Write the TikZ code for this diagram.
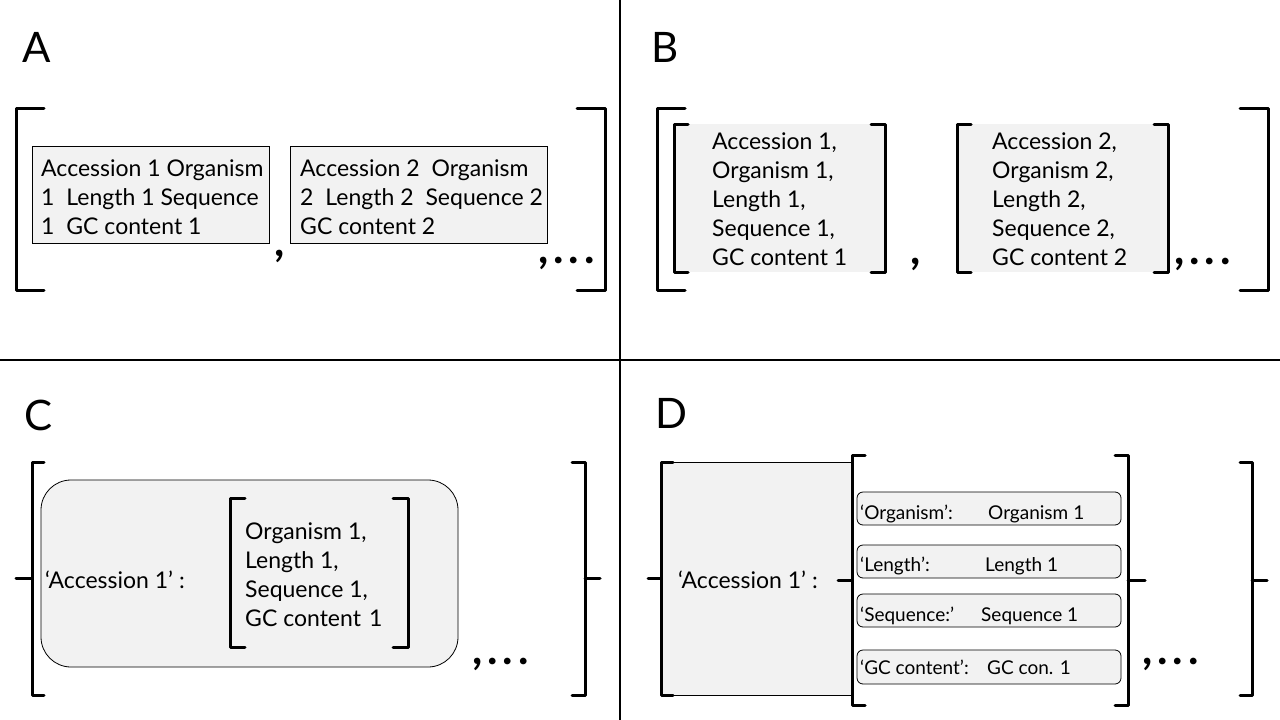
\documentclass[tikz,border=0pt]{standalone}
\usepackage{fontspec}
\setmainfont{Lato}
\def\sqbrak[#1](#2:#3:#4:#5){\draw[#1] ({#2+(#5)},#3) -- (#2,#3) -- (#2,#4) -- ({#2+(#5)},#4);}
\tikzset{
	brk/.style={line width=3pt, line cap=round, line join=round},
	rec/.style={draw, line width=0.8pt, fill=black!5},
	txt/.style={font=\fontsize{23}{29}\selectfont, align=left, inner sep=0pt, anchor=north west},
	smalltxt/.style={font=\fontsize{19}{22}\selectfont, inner sep=0pt, anchor=base west},
	big/.style={font=\fontsize{42}{42}\selectfont, inner sep=0pt, anchor=base west},
	dots/.style={font=\fontsize{44}{44}\bfseries\selectfont, inner sep=0pt, anchor=base west}
}

\begin{document}
\begin{tikzpicture}[x=1pt, y=-1pt]
				\useasboundingbox (0,0) rectangle (1280,720);
				\fill[white] (0,0) rectangle (1280,720);
				
				\draw[line width=1.5pt] (620,0) -- (620,720);
				\draw[line width=1.5pt] (0,360) -- (1280,360);
				
				\node[big] (labA) at (22,62) {A};
				\sqbrak[brk](16:108:290:28)
				\sqbrak[brk](605:108:290:-28)
				\draw[rec] (32,146) rectangle (269,243);
				\node[txt] (acc1) at (41,160) {Accession 1 Organism\\1\hspace{6pt} Length 1 Sequence\\1\hspace{6pt} GC content 1};
				\node[dots] (acomma) at (274,256) {,};
				\draw[rec] (290,146) rectangle (547,243);
				\node[txt] (acc2) at (300,160) {Accession 2\hspace{6pt} Organism\\2\hspace{6pt} Length 2\hspace{6pt} Sequence 2\\GC content 2};
				\node[dots] (adots) at (538,263) {,\kern5pt.\kern5pt.\kern5pt.};
				
				\node[big] (labB) at (651,62) {B};
				\sqbrak[brk](657:108:290:28)
				\sqbrak[brk](1268:108:290:-28)
				\fill[black!5] (674,124) rectangle (885,272);
				\sqbrak[brk](674:124:272:14)
				\sqbrak[brk](885:124:272:-14)
				\node[txt] (rec1) at (712,133) {Accession 1,\\Organism 1,\\Length 1,\\Sequence 1,\\GC content 1};
				\node[dots] (bcomma) at (910,264) {,};
				\fill[black!5] (957,124) rectangle (1168,272);
				\sqbrak[brk](957:124:272:14)
				\sqbrak[brk](1168:124:272:-14)
				\node[txt] (rec2) at (992,133) {Accession 2,\\Organism 2,\\Length 2,\\Sequence 2,\\GC content 2};
				\node[dots] (bdots) at (1174,264) {,\kern5pt.\kern5pt.\kern5pt.};
				
				\node[big] (labC) at (24,430) {C};
				\sqbrak[brk](32:462:695:12)
				\draw[brk] (16,578) -- (32,578);
				\draw[rec, rounded corners=30pt] (41,480) rectangle (458,667);
				\node[txt, anchor=west] (ckey) at (45,580) {‘Accession 1’ :};
				\sqbrak[brk](230:498:647:15)
				\sqbrak[brk](408:498:647:-15)
				\node[txt] (cval) at (245,523) {Organism 1,\\Length 1,\\Sequence 1,\\GC content\hspace{8pt}1};
				\sqbrak[brk](585:462:695:-13)
				\draw[brk] (585,578) -- (600,578);
				\node[dots] (cdots) at (472,664) {,\kern5pt.\kern5pt.\kern5pt.};
				
				\node[big] (labD) at (655,428) {D};
				\draw[rec] (661,462) rectangle (855,695);
				\sqbrak[brk](661:462:695:12)
				\draw[brk] (648,578) -- (661,578);
				\node[txt, anchor=west] (dkey) at (678,580) {‘Accession 1’ :};
				\fill[white] (852,455) rectangle (1128,705);
				\sqbrak[brk](852:455:705:13)
				\draw[brk] (838,580) -- (852,580);
				\sqbrak[brk](1128:455:705:-13)
				\draw[brk] (1128,580) -- (1145,580);
				
				\draw[rec, rounded corners=6pt] (857,492) rectangle (1121,525);
				\node[smalltxt] (korg) at (860,519) {‘Organism’:};
				\node[smalltxt] (vorg) at (988,519) {Organism\hspace{5pt}1};
				\draw[rec, rounded corners=6pt] (857,545) rectangle (1121,578);
				\node[smalltxt] (klen) at (860,571) {‘Length’:};
				\node[smalltxt] (vlen) at (985,571) {Length\hspace{5pt}1};
				\draw[rec, rounded corners=6pt] (857,594) rectangle (1121,627);
				\node[smalltxt] (kseq) at (860,621) {‘Sequence:’};
				\node[smalltxt] (vseq) at (981,621) {Sequence 1};
				\draw[rec, rounded corners=6pt] (857,650) rectangle (1121,684);
				\node[smalltxt] (kgc) at (860,674) {‘GC content’:};
				\node[smalltxt] (vgc) at (987,674) {GC con. 1};
				
				\sqbrak[brk](1252:462:695:-12)
				\draw[brk] (1252,580) -- (1267,580);
				\node[dots] (ddots) at (1142,664) {,\kern5pt.\kern5pt.\kern5pt.};
\end{tikzpicture}
\end{document}
